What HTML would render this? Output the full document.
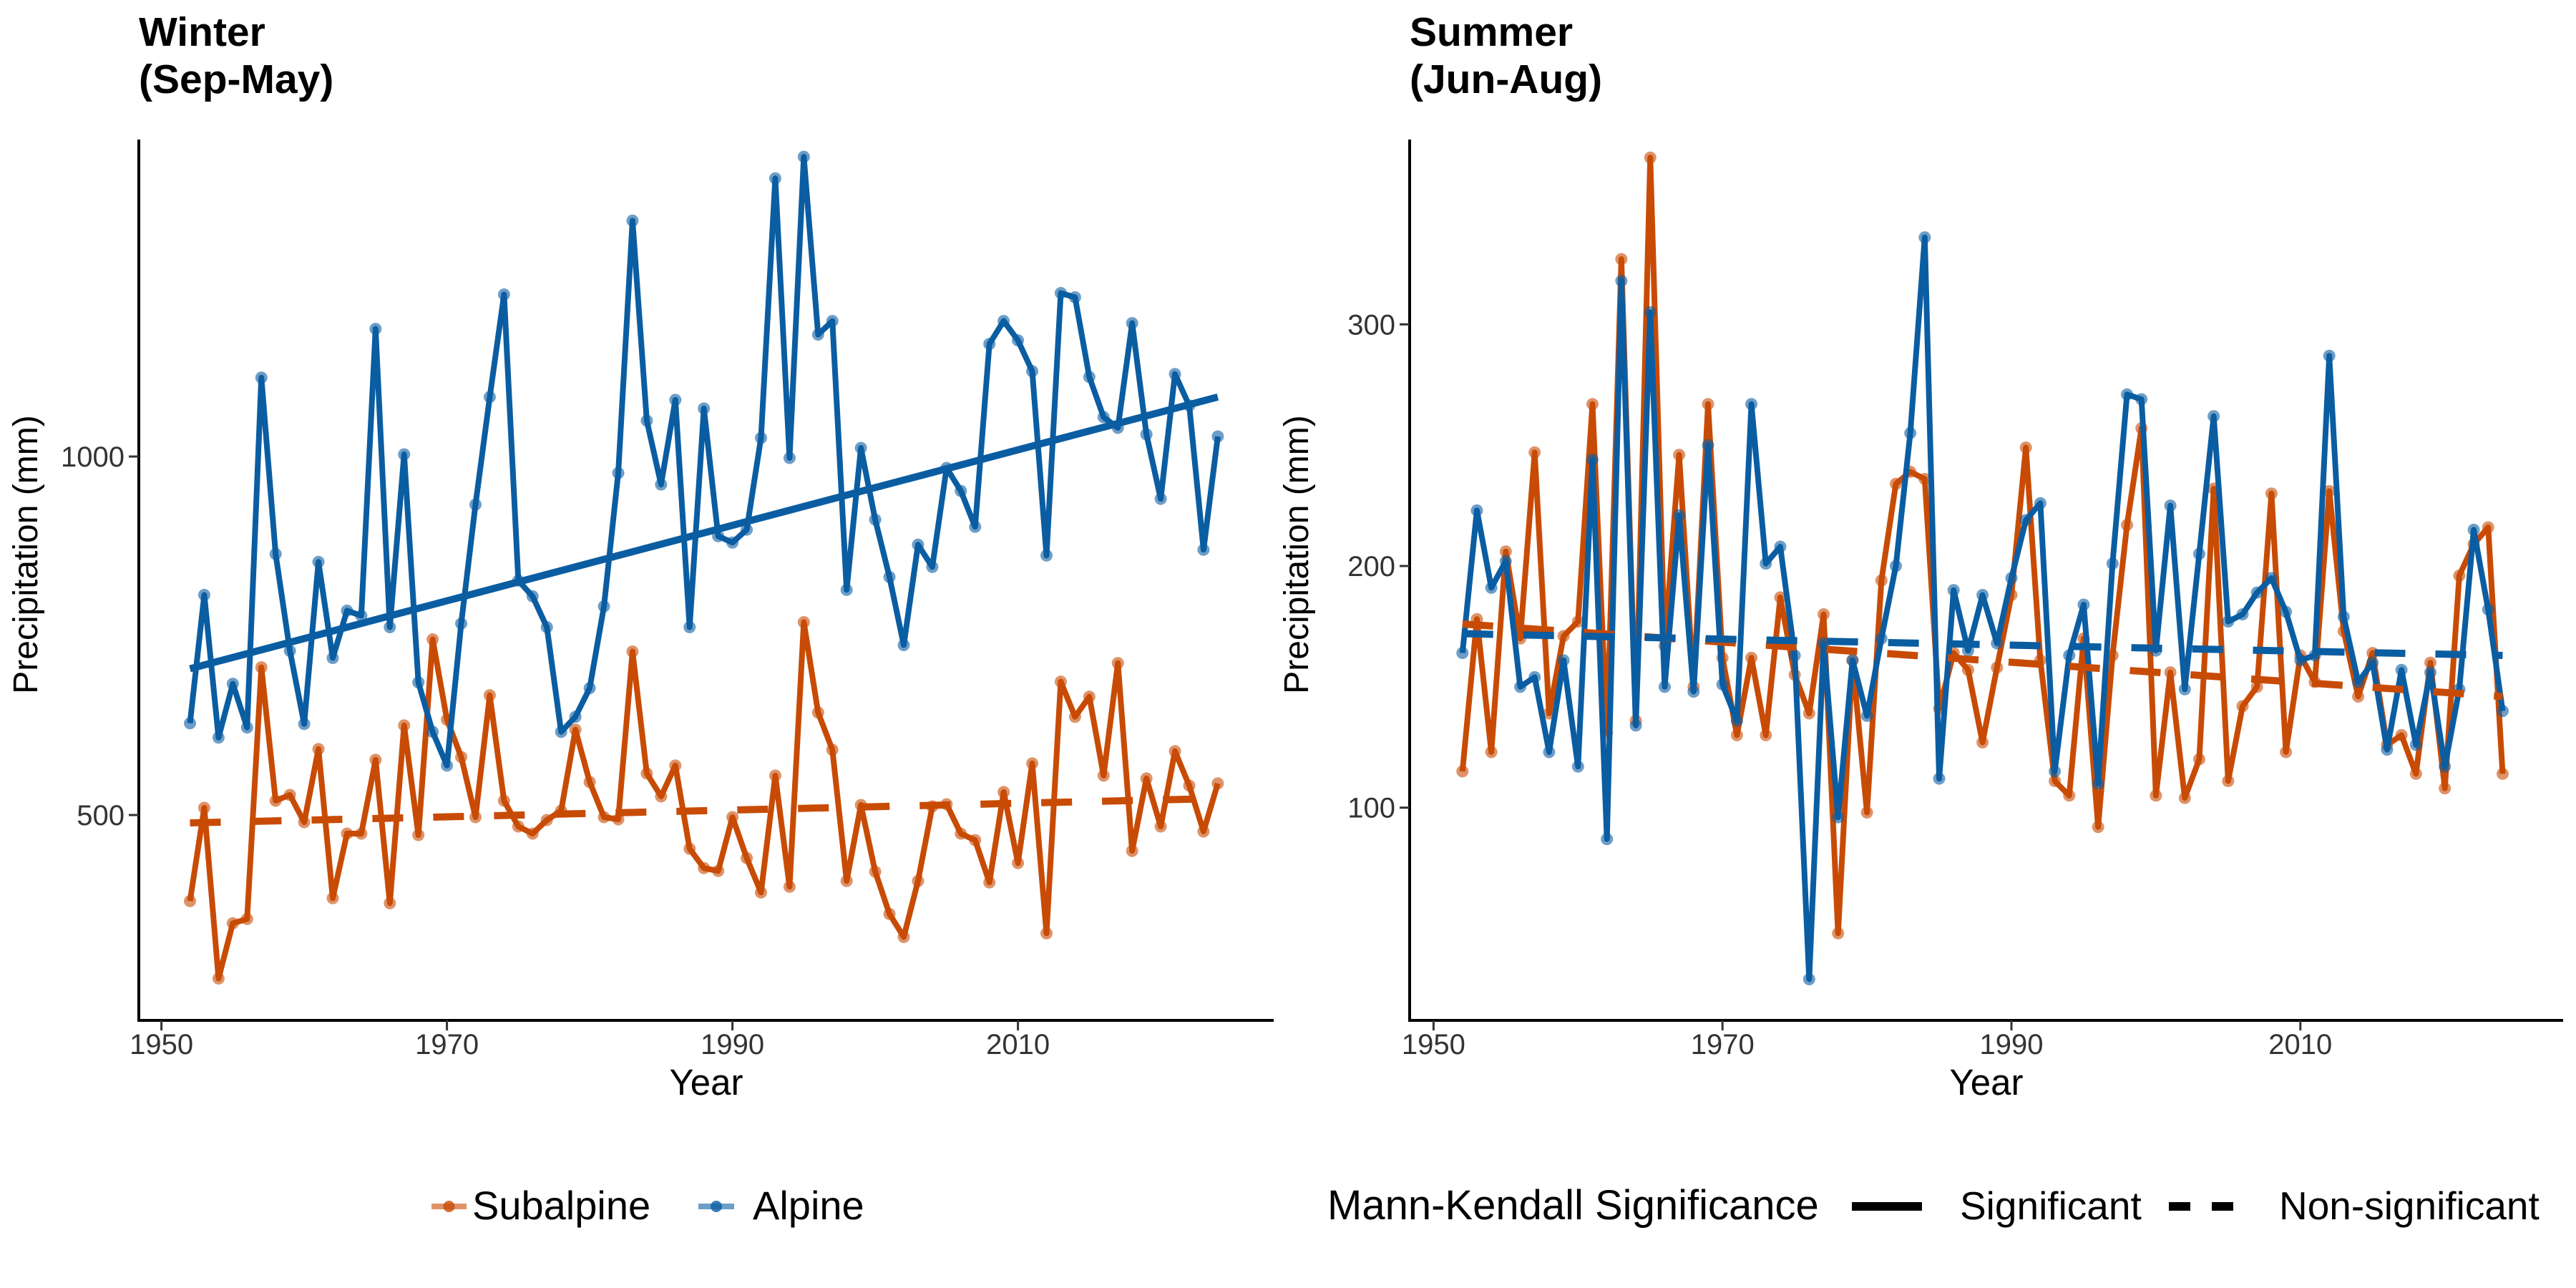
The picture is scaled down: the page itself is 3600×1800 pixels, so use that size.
<!DOCTYPE html>
<html><head><meta charset="utf-8"><style>
html,body{margin:0;padding:0;background:#fff;}
svg{display:block;font-family:"Liberation Sans",Arial,sans-serif;}
</style></head><body>
<svg id="chart" width="3600" height="1800" viewBox="0 0 3600 1800" xmlns="http://www.w3.org/2000/svg">
<rect width="3600" height="1800" fill="#fff"/>
<g id="left"></g>
<g id="right"></g>
<g id="legend"></g>
</svg>
<script>
const years = [];
for (let y = 1952; y <= 2024; y++) years.push(y);
const winterSubalpine = [380,510,272,349,355,706,520,528,490,592,384,474,474,577,377,625,472,745,633,581,497,667,520,484,474,493,506,619,546,497,494,728,558,526,569,453,426,422,497,440,392,555,400,769,643,591,408,514,421,362,330,408,512,515,474,465,406,532,433,572,335,686,637,665,555,712,450,551,484,589,541,477,544];
const winterAlpine = [628,807,608,683,622,1110,864,729,627,853,719,785,778,1178,762,1003,685,616,569,767,933,1083,1226,827,805,762,616,637,677,791,977,1329,1050,961,1079,762,1067,889,880,898,1026,1388,998,1418,1170,1189,814,1012,912,832,737,877,846,984,952,902,1157,1189,1162,1119,862,1228,1222,1111,1055,1040,1186,1031,941,1115,1071,870,1028];
const summerSubalpine = [115,178,123,206,170,247,139,171,177,267,131,327,136,369,167,246,150,267,162,130,162,130,187,155,139,180,48,161,98,194,234,239,236,141,164,157,127,158,188,249,161,111,105,170,92,163,217,257,105,156,104,120,232,111,142,150,230,123,163,152,231,173,146,164,126,130,114,160,108,196,209,216,114];
const summerAlpine = [164,223,191,202,150,154,123,161,117,244,87,318,134,305,150,221,148,250,151,136,267,201,208,163,29,168,96,161,138,170,200,255,336,112,190,165,188,168,195,219,226,115,163,184,110,201,271,269,165,225,149,205,262,177,180,189,195,181,161,163,287,179,152,160,124,157,126,156,117,149,215,182,140];
const winterTrendSub = [489, 523];
const winterTrendAlp = [704, 1083];
const summerTrendSub = [176, 146];
const summerTrendAlp = [172, 163];
const winterTicksX = [1950,1970,1990,2010];
const winterTicksY = [500,1000];
const summerTicksY = [100,200,300];

const NS = "http://www.w3.org/2000/svg";
const ORANGE = "#C84B05", BLUE = "#0B5DA2";
function el(tag, attrs, parent){const e=document.createElementNS(NS,tag);for(const k in attrs)e.setAttribute(k,attrs[k]);parent.appendChild(e);return e;}

function panel(g, cfg){
  const {x0, xr, yf, axisX, axisY, title1, title2, yTicks, sub, alp, tSub, tAlp, sigSub, sigAlp, titleX} = cfg;
  const xs = v => x0 + (v-1950)*xr;
  const t1 = el('text',{x:titleX,y:64,'font-size':57,'font-weight':'bold',fill:'#000'},g); t1.textContent=title1;
  
  
  const t2 = el('text',{x:titleX,y:130,'font-size':57,'font-weight':'bold',fill:'#000'},g); t2.textContent=title2;
  
  
  const ax = el('line',{x1:axisX,y1:195,x2:axisX,y2:1426,stroke:'#000','stroke-width':4},g);
  
  
  const ay = el('line',{x1:axisX-2,y1:1426,x2:axisY,y2:1426,stroke:'#000','stroke-width':4},g);
  
  
  winterTicksX.forEach(v=>{
    el('line',{x1:xs(v),y1:1426,x2:xs(v),y2:1440,stroke:'#333','stroke-width':3},g);
    const t=el('text',{x:xs(v),y:1473,'font-size':40,'text-anchor':'middle',fill:'#333'},g);t.textContent=v;
    
    
  });
  yTicks.forEach(v=>{
    el('line',{x1:axisX-14,y1:yf(v),x2:axisX,y2:yf(v),stroke:'#333','stroke-width':3},g);
    const t=el('text',{x:axisX-20,y:yf(v)+14,'font-size':40,'text-anchor':'end',fill:'#333'},g);t.textContent=v;
    
    
  });
  const xl=el('text',{x:(axisX+axisY)/2,y:1530,'font-size':51,'text-anchor':'middle',fill:'#000'},g);xl.textContent='Year';
  
  
  const yl=el('text',{x:0,y:0,'font-size':48,'text-anchor':'middle',fill:'#000',transform:`translate(${axisX-142},775) rotate(-90)`},g);yl.textContent='Precipitation (mm)';
  
  
  [[sub,ORANGE,'subalpine'],[alp,BLUE,'alpine']].forEach(([arr,c,nm])=>{
    const pts = arr.map((v,i)=>xs(years[i])+','+yf(v)).join(' ');
    const pl=el('polyline',{points:pts,fill:'none',stroke:c,'stroke-width':8,'stroke-linejoin':'round'},g);
    
    
    arr.forEach((v,i)=>{
      const p=el('circle',{cx:xs(years[i]),cy:yf(v),r:8.5,fill:c,'fill-opacity':0.6},g);
      
      
    });
  });
  [[tSub,ORANGE,sigSub,'subalpine'],[tAlp,BLUE,sigAlp,'alpine']].forEach(([t,c,sig,nm])=>{
    const ln=el('line',{x1:xs(years[0]),y1:yf(t[0]),x2:xs(years[years.length-1]),y2:yf(t[1]),stroke:c,'stroke-width':10},g);
    if(!sig) ln.setAttribute('stroke-dasharray','43 42');
    
    
  });
}

panel(document.getElementById('left'),{x0:225.6,xr:19.95,yf:v=>1139-(v-500)*1.002,axisX:194,axisY:1780,titleX:194,
  title1:'Winter',title2:'(Sep-May)',yTicks:winterTicksY,sub:winterSubalpine,alp:winterAlpine,tSub:winterTrendSub,tAlp:winterTrendAlp,sigSub:false,sigAlp:true});
panel(document.getElementById('right'),{x0:2003.4,xr:20.19,yf:v=>791-(v-200)*3.377,axisX:1970,axisY:3582,titleX:1970,
  title1:'Summer',title2:'(Jun-Aug)',yTicks:summerTicksY,sub:summerSubalpine,alp:summerAlpine,tSub:summerTrendSub,tAlp:summerTrendAlp,sigSub:false,sigAlp:false});

const lg=document.getElementById('legend');
function key(x1,x2,c,dash,pt,name){
  const l=el('line',{x1:x1,y1:1686,x2:x2,y2:1686,stroke:c,'stroke-width':pt?8:12,'stroke-opacity':pt?0.6:1},lg);
  if(dash) l.setAttribute('stroke-dasharray','30 30');
  
  
  if(pt){const p=el('circle',{cx:(x1+x2)/2,cy:1686,r:8,fill:c,'fill-opacity':0.8},lg);
    
    }
}
function ltext(x,s,fs,name){const t=el('text',{x:x,y:1704,'font-size':fs,fill:'#000'},lg);t.textContent=s;
  
  }
key(603,652,ORANGE,false,true,'subalpine');
ltext(660,'Subalpine',56,'legend-subalpine-label');
key(976,1026,BLUE,false,true,'alpine');
ltext(1052,'Alpine',56,'legend-alpine-label');
ltext(1855,'Mann-Kendall Significance',58,'legend-significance-title');
key(2588,2686,'#000',false,false,'significant');
ltext(2739,'Significant',55,'legend-significant-label');
key(3031,3151,'#000',true,false,'non-significant');
ltext(3185,'Non-significant',55,'legend-non-significant-label');
</script>
</body></html>
